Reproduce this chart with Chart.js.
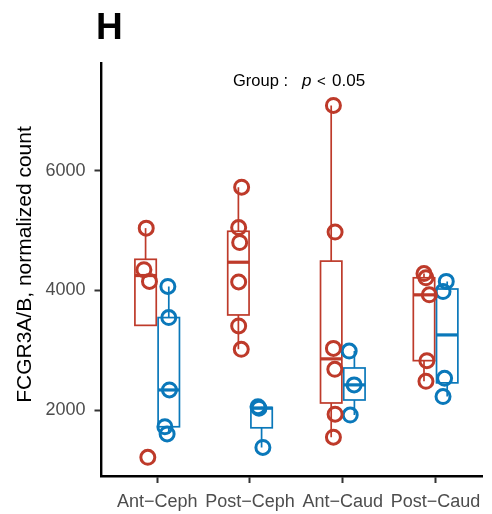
<!DOCTYPE html>
<html>
<head>
<meta charset="utf-8">
<script src="https://cdn.jsdelivr.net/npm/chart.js@4"></script>
<style>
  html, body { margin: 0; padding: 0; background: #ffffff; }
  #wrap { width: 492px; height: 514px; }
</style>
</head>
<body>
<div id="wrap"><canvas id="fcgr-chart" width="492" height="514"></canvas></div>
<script>
// Regions along the x axis
const categories = ['Ant\u2212Ceph', 'Post\u2212Ceph', 'Ant\u2212Caud', 'Post\u2212Caud'];
const yTicks = [2000, 4000, 6000];

// Normalized counts per sample, one list per region
const redValues = [
    [5040, 4345, 4150, 1210],
    [5725, 5050, 4800, 4140, 3405, 3015],
    [7090, 4975, 3030, 2680, 1930, 1545],
    [4280, 4210, 3925, 2825, 2480]
];
const blueValues = [
    [4065, 3545, 2335, 1720, 1600],
    [2055, 2030, 1375],
    [2985, 2420, 1915],
    [4150, 3980, 2530, 2225]
];

// Horizontal jitter of each sample (category units)
const redJitter = [
    [0.007, -0.018, 0.042, 0.024],
    [0.035, 0.003, 0.014, 0.003, 0.003, 0.031],
    [0.024, 0.042, 0.024, 0.039, 0.042, 0.024],
    [0.000, 0.021, 0.057, 0.031, 0.021]
];
const blueJitter = [
    [-0.010, 0.000, 0.007, -0.042, -0.018],
    [-0.039, -0.028, 0.014],
    [-0.056, -0.003, -0.045],
    [-0.010, -0.045, -0.028, -0.045]
];

const RED = '#BE3A2A';
const BLUE = '#0A78BA';
const DODGE = 0.125;
const BOX_WIDTH = 0.23;
const FONT = "'Liberation Sans', Arial, Helvetica, sans-serif";
const Y_TITLE = 'FCGR3A/B, normalized count';

const groups = [
    { values: redValues, jitter: redJitter, color: RED, shift: -DODGE },
    { values: blueValues, jitter: blueJitter, color: BLUE, shift: DODGE }
];

function toPoints(group) {
    const pts = [];
    group.values.forEach((vals, i) => {
        vals.forEach((v, j) => {
            pts.push({ x: i + 1 + group.shift + group.jitter[i][j], y: v });
        });
    });
    return pts;
}

// R type-7 quantile
function quantile(sorted, p) {
    const h = (sorted.length - 1) * p;
    const lo = Math.floor(h);
    const hi = Math.min(lo + 1, sorted.length - 1);
    return sorted[lo] + (h - lo) * (sorted[hi] - sorted[lo]);
}

function boxStats(vals) {
    const s = vals.slice().sort((a, b) => a - b);
    const q1 = quantile(s, 0.25);
    const med = quantile(s, 0.5);
    const q3 = quantile(s, 0.75);
    const iqr = q3 - q1;
    const inside = s.filter(v => v >= q1 - 1.5 * iqr && v <= q3 + 1.5 * iqr);
    return {
        q1, med, q3,
        lo: Math.min(q1, inside[0]),
        hi: Math.max(q3, inside[inside.length - 1])
    };
}

// Boxplots drawn under the jittered points
const boxplotPlugin = {
    id: 'boxplots',
    beforeDatasetsDraw(chart) {
        const ctx = chart.ctx;
        const xs = chart.scales.x;
        const ys = chart.scales.y;
        ctx.save();
        groups.forEach(g => {
            g.values.forEach((vals, i) => {
                const st = boxStats(vals);
                const cx = xs.getPixelForValue(i + 1 + g.shift);
                const left = xs.getPixelForValue(i + 1 + g.shift - BOX_WIDTH / 2);
                const right = xs.getPixelForValue(i + 1 + g.shift + BOX_WIDTH / 2);
                const yq1 = ys.getPixelForValue(st.q1);
                const yq3 = ys.getPixelForValue(st.q3);
                ctx.strokeStyle = g.color;
                ctx.lineWidth = 1.7;
                ctx.beginPath();
                ctx.moveTo(cx, ys.getPixelForValue(st.hi));
                ctx.lineTo(cx, yq3);
                ctx.moveTo(cx, yq1);
                ctx.lineTo(cx, ys.getPixelForValue(st.lo));
                ctx.stroke();
                ctx.strokeRect(left, yq3, right - left, yq1 - yq3);
                ctx.lineWidth = 3.2;
                ctx.beginPath();
                const ym = ys.getPixelForValue(st.med);
                ctx.moveTo(left, ym);
                ctx.lineTo(right, ym);
                ctx.stroke();
            });
        });
        ctx.restore();
    }
};

// Panel letter, y title and test annotation
const labelsPlugin = {
    id: 'panelText',
    afterDraw(chart) {
        const ctx = chart.ctx;
        ctx.save();
        ctx.fillStyle = '#000000';
        ctx.textBaseline = 'alphabetic';
        ctx.textAlign = 'left';
        ctx.font = 'bold 37px ' + FONT;
        ctx.fillText('H', 96, 39);

        ctx.font = '16.5px ' + FONT;
        ctx.fillText('Group :', 233, 86);
        ctx.font = 'italic 17px ' + FONT;
        ctx.fillText('p', 302, 86);
        ctx.font = '15px ' + FONT;
        ctx.fillText('<', 317, 86);
        ctx.font = '17px ' + FONT;
        ctx.fillText('0.05', 332, 86);

        ctx.translate(25, 264.5);
        ctx.rotate(-Math.PI / 2);
        ctx.textAlign = 'center';
        ctx.textBaseline = 'middle';
        ctx.font = '21px ' + FONT;
        ctx.fillText(Y_TITLE, 0, 0);
        ctx.restore();
    }
};

function scatterSet(g) {
    return {
        type: 'scatter',
        data: toPoints(g),
        pointStyle: 'circle',
        pointRadius: 7,
        pointHoverRadius: 7,
        pointBorderWidth: 3,
        pointBackgroundColor: 'rgba(0,0,0,0)',
        pointBorderColor: g.color
    };
}

new Chart(document.getElementById('fcgr-chart'), {
    type: 'scatter',
    data: { datasets: groups.map(scatterSet) },
    options: {
        responsive: false,
        animation: false,
        devicePixelRatio: 1,
        layout: { padding: { top: 63, right: 0, left: 0, bottom: 0 } },
        plugins: {
            legend: { display: false },
            tooltip: { enabled: false },
            title: { display: false }
        },
        scales: {
            x: {
                type: 'linear',
                min: 0.4,
                max: 4.5,
                afterFit: (s) => { s.height = 38; },
                afterBuildTicks: (s) => { s.ticks = categories.map((c, i) => ({ value: i + 1 })); },
                ticks: {
                    color: '#4D4D4D',
                    font: { family: FONT, size: 18 },
                    padding: 8,
                    maxRotation: 0,
                    callback: (v) => categories[v - 1]
                },
                grid: { drawOnChartArea: false, drawTicks: true, tickLength: 7, tickWidth: 2, tickColor: '#333333' },
                border: { display: true, color: '#000000', width: 2.4 }
            },
            y: {
                min: 897,
                max: 7800,
                afterFit: (s) => { s.width = 101.5; },
                afterBuildTicks: (s) => { s.ticks = yTicks.map(v => ({ value: v })); },
                ticks: {
                    color: '#4D4D4D',
                    font: { family: FONT, size: 18 },
                    padding: 9,
                    callback: (v) => String(v)
                },
                grid: { drawOnChartArea: false, drawTicks: true, tickLength: 7, tickWidth: 2, tickColor: '#333333' },
                border: { display: true, color: '#000000', width: 2.4 }
            }
        }
    },
    plugins: [boxplotPlugin, labelsPlugin]
});
</script>
</body>
</html>
